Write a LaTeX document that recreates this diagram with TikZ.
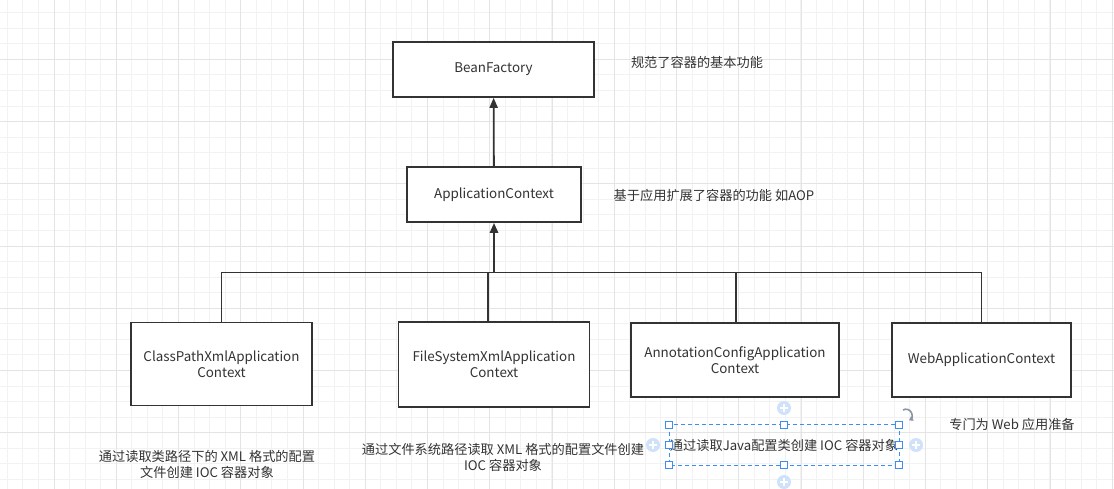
\documentclass[tikz,border=0pt]{standalone}
\usepackage{fontspec}
\setmainfont{Noto Sans CJK SC}
\usetikzlibrary{arrows.meta}

\definecolor{ink}{HTML}{333333}
\definecolor{gridminor}{HTML}{F2F2F2}
\definecolor{gridmajor}{HTML}{E4E4E4}
\definecolor{selblue}{HTML}{3D8EF0}
\definecolor{plusblue}{HTML}{CFE2FA}
\definecolor{rotgray}{HTML}{8A95A5}

\tikzset{
cls/.style={
  rectangle,
  draw=ink,
  line width=1.6pt,
  fill=white,
  text=ink,
  align=center,
  font=\fontsize{13.4}{16}\selectfont,
  inner sep=0pt,
},
note/.style={
  rectangle,
  draw=none,
  text=ink,
  align=center,
  font=\fontsize{13.2}{16}\selectfont,
  inner sep=0pt,
},
link/.style={draw=ink, line width=1.8pt},
handle/.style={draw=selblue, fill=white, line width=0.9pt},
}

\begin{document}
\begin{tikzpicture}[x=1pt, y=-1pt, >={Triangle[length=10pt,width=8pt]}]
\useasboundingbox (0,0) rectangle (1114,489);
%grid
\fill[white] (0,0) rectangle (1114,489);
\foreach \i in {-3,...,68} {
  \draw[gridminor, line width=0.9pt] ({54+15.56*\i},0) -- ({54+15.56*\i},489);
}
\foreach \j in {-3,...,28} {
  \draw[gridminor, line width=0.9pt] (0,{59.3+15.56*\j}) -- (1114,{59.3+15.56*\j});
}
\foreach \i in {0,...,17} {
  \draw[gridmajor, line width=1pt] ({54+62.25*\i},0) -- ({54+62.25*\i},489);
}
\foreach \j in {-1,...,7} {
  \draw[gridmajor, line width=1pt] (0,{59.3+62.25*\j}) -- (1114,{59.3+62.25*\j});
}

%top
\node[cls, minimum width=201pt, minimum height=55pt](BeanFactory) at (493.5,69.5) {BeanFactory};
\node[note](BeanFactoryNote) at (697,62) {规范了容器的基本功能};
\node[cls, minimum width=174pt, minimum height=55pt](AppContext) at (494,194.5) {ApplicationContext};
\node[note](AppContextNote) at (714,195) {基于应用扩展了容器的功能 如AOP};

%implementations
\node[cls, minimum width=181pt, minimum height=83pt](ClassPath) at (221.5,364) {ClassPathXmlApplication\\Context};
\node[cls, minimum width=191pt, minimum height=85pt](FileSystem) at (494,364.5) {FileSystemXmlApplication\\Context};
\node[cls, minimum width=208pt, minimum height=74pt](Annotation) at (735,360) {AnnotationConfigApplication\\Context};
\node[cls, minimum width=179pt, minimum height=74pt](WebContext) at (981.5,360) {WebApplicationContext};

\node[note](ClassPathNote) at (207,464) {通过读取类路径下的 XML 格式的配置\\文件创建 IOC 容器对象};
\node[note](FileSystemNote) at (503,457) {通过文件系统路径读取 XML 格式的配置文件创建\\IOC 容器对象};
\node[note](AnnotationNote) at (784,445) {通过读取Java配置类创建 IOC 容器对象};
\node[note](WebContextNote) at (1012,424) {专门为 Web 应用准备};

%connectors
\coordinate (bus) at (494,272.5);
\draw[link, ->](AppContext) -- (BeanFactory);
\draw[link](ClassPath.north) |- (bus);
\draw[link](bus) -| (WebContext.north);
\draw[link](FileSystem.north -| 488,0) -- (488,272.5);
\draw[link](Annotation.north -| 736,0) -- (736,272.5);
\draw[link, line width=2.6pt, ->](bus) -- (AppContext);

%selection
\draw[selblue, dashed, line width=0.9pt, dash pattern=on 4pt off 3pt] (669,424.5) rectangle (899,465);
\foreach \x in {669,784,899} {
  \foreach \y in {424.5,465} {
    \draw[handle] (\x-3.5,\y-3.5) rectangle (\x+3.5,\y+3.5);
  }
}
\foreach \x in {669,899} {
  \draw[handle] (\x-3.5,444.5-3.5) rectangle (\x+3.5,444.5+3.5);
}
\foreach \x/\y in {784/408,784/482,653/445,916/445} {
  \fill[plusblue] (\x,\y) circle (7pt);
  \draw[white, line width=1.3pt] (\x-4,\y) -- (\x+4,\y) (\x,\y-4) -- (\x,\y+4);
}
\draw[rotgray, line width=1.6pt, -{Triangle[length=4pt,width=5pt]}] (903,410) arc[start angle=120, end angle=-60, radius=6pt];
\end{tikzpicture}
\end{document}
